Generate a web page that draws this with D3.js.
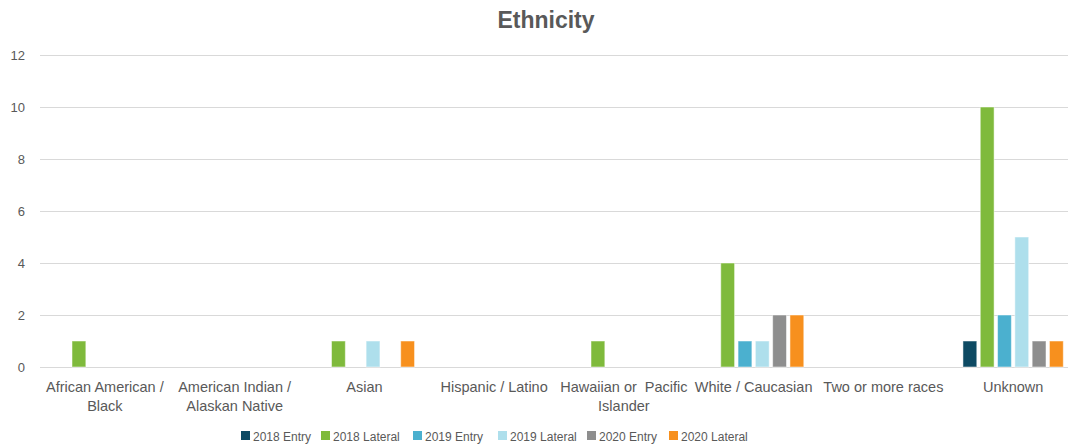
<!DOCTYPE html>
<html>
<head>
<meta charset="utf-8">
<script src="https://cdn.jsdelivr.net/npm/d3@7"></script>
<style>
  body { margin: 0; background: #fff; }
  svg text { font-family: "Liberation Sans", "Open Sans", sans-serif; fill: #595959; }
</style>
</head>
<body>
<svg id="chart" width="1068" height="447"></svg>
<script>
// categories (line breaks as they wrap in the original)
const categories = [
    "African American /\nBlack",
    "American Indian /\nAlaskan Native",
    "Asian",
    "Hispanic / Latino",
    "Hawaiian or  Pacific\nIslander",
    "White / Caucasian",
    "Two or more races",
    "Unknown"
];
const seriesNames = ["2018 Entry", "2018 Lateral", "2019 Entry", "2019 Lateral", "2020 Entry", "2020 Lateral"];
const seriesColors = ["#0d4a63", "#7fba3c", "#4bb0cf", "#aedfec", "#8e8e8e", "#f7901e"];

const entry2018   = [0, 0, 0, 0, 0, 0, 0, 1];
const lateral2018 = [1, 0, 1, 0, 1, 4, 0, 10];
const entry2019   = [0, 0, 0, 0, 0, 1, 0, 2];
const lateral2019 = [0, 0, 1, 0, 0, 1, 0, 5];
const entry2020   = [0, 0, 0, 0, 0, 2, 0, 1];
const lateral2020 = [0, 0, 1, 0, 0, 2, 0, 1];
const seriesValues = [entry2018, lateral2018, entry2019, lateral2019, entry2020, lateral2020];

const yTicks = [0, 2, 4, 6, 8, 10, 12];

const svg = d3.select("#chart");

// scales
const x0 = d3.scaleBand()
    .domain(categories)
    .range([40, 1078]);

const x1 = d3.scaleBand()
    .domain(seriesNames)
    .range([x0.bandwidth() * 0.1, x0.bandwidth() * 0.9])
    .paddingInner(0.2)
    .paddingOuter(0.1);

const y = d3.scaleLinear()
    .domain([0, 12])
    .range([367, 55]);

// title
svg.append("text")
    .attr("x", 546)
    .attr("y", 28)
    .attr("text-anchor", "middle")
    .style("font-size", "23px")
    .style("font-weight", "bold")
    .text("Ethnicity");

// gridlines
svg.append("g")
    .selectAll("line")
    .data(yTicks)
    .enter().append("line")
    .attr("x1", 40)
    .attr("x2", 1078)
    .attr("y1", d => Math.round(y(d)) + 0.5)
    .attr("y2", d => Math.round(y(d)) + 0.5)
    .attr("stroke", "#d9d9d9")
    .attr("stroke-width", 1);

// y labels
svg.append("g")
    .selectAll("text")
    .data(yTicks)
    .enter().append("text")
    .attr("x", 25)
    .attr("y", d => y(d) + 4.5)
    .attr("text-anchor", "end")
    .style("font-size", "13px")
    .text(d => d);

// bars
const groups = svg.append("g")
    .selectAll("g")
    .data(categories)
    .enter().append("g")
    .attr("transform", d => "translate(" + x0(d) + ",0)");

groups.selectAll("rect")
    .data((d, i) => seriesNames.map((s, j) => ({ series: s, value: seriesValues[j][i], color: seriesColors[j] })))
    .enter().append("rect")
    .filter(d => d.value > 0)
    .attr("x", d => x1(d.series))
    .attr("y", d => y(d.value))
    .attr("width", x1.bandwidth())
    .attr("height", d => y(0) - y(d.value))
    .attr("fill", d => d.color)
    .attr("stroke", "#ffffff")
    .attr("stroke-opacity", 0.5)
    .attr("stroke-width", 1);

// x labels
const xLabels = svg.append("g")
    .selectAll("text")
    .data(categories)
    .enter().append("text")
    .attr("text-anchor", "middle")
    .style("font-size", "14.5px")
    .attr("transform", d => "translate(" + (x0(d) + x0.bandwidth() / 2) + ",392)");

xLabels.selectAll("tspan")
    .data(d => d.split("\n"))
    .enter().append("tspan")
    .attr("x", 0)
    .attr("dy", (d, i) => i === 0 ? 0 : 19)
    .style("white-space", "pre")
    .text(d => d);

// legend
const legendX = [241, 321, 413, 498, 587, 669];
const legend = svg.append("g")
    .selectAll("g")
    .data(seriesNames)
    .enter().append("g")
    .attr("transform", (d, i) => "translate(" + legendX[i] + ",431)");

legend.append("rect")
    .attr("width", 9)
    .attr("height", 9)
    .attr("fill", (d, i) => seriesColors[i]);

legend.append("text")
    .attr("x", 12)
    .attr("y", 9.5)
    .style("font-size", "12px")
    .text(d => d);
</script>
</body>
</html>
